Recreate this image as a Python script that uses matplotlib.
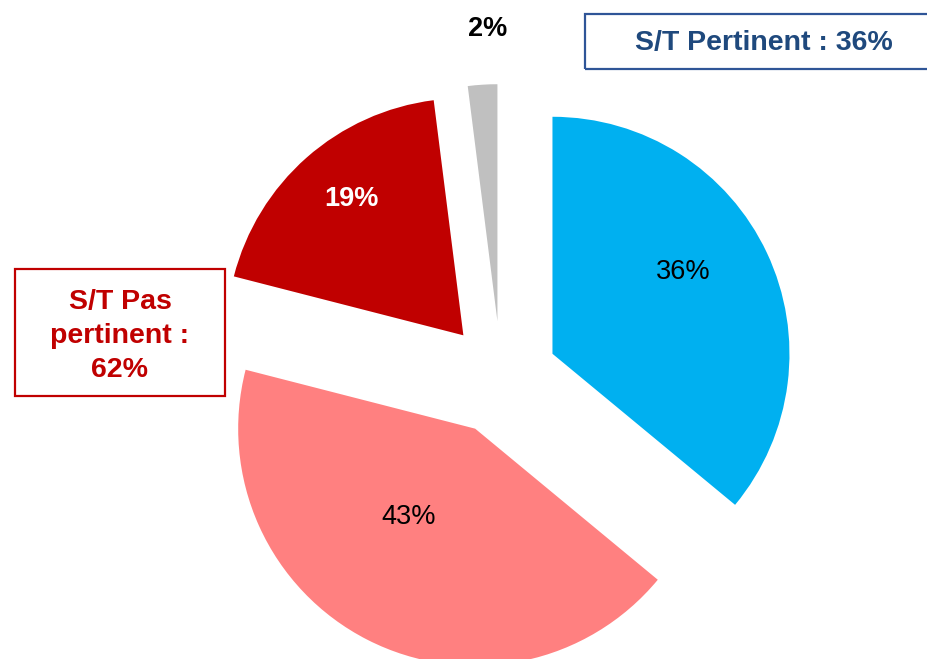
import numpy as np
import matplotlib.pyplot as plt
from matplotlib.patches import Rectangle

plt.rcParams['font.family'] = ['Liberation Sans', 'DejaVu Sans']

shares = [36, 43, 19, 2]
labels = ['36%', '43%', '19%', '2%']
colors = ['#00B0F0', '#FF8080', '#C00000', '#C0C0C0']
label_colors = ['black', 'black', 'white', 'black']
label_weights = ['normal', 'normal', 'bold', 'bold']
# label placement: distance from wedge tip and turn from the mid-angle
label_dist = [0.65, 0.465, 0.745, 1.235]
label_turn = [6.9, -9.9, -1.9, -1.6]

box_right = 'S/T Pertinent : 36%'
box_left = 'S/T Pas\npertinent :\n62%'

fig = plt.figure(figsize=(9.28, 6.59), dpi=100)
ax = fig.add_axes([0, 0, 1, 1])
wedges, _ = ax.pie(shares, colors=colors, startangle=90, counterclock=False,
                   explode=[0.24] * 4, radius=1,
                   wedgeprops=dict(linewidth=0))
for w, lab, c, fw, d, t in zip(wedges, labels, label_colors, label_weights,
                               label_dist, label_turn):
    a = np.deg2rad((w.theta1 + w.theta2) / 2 + t)
    cx, cy = w.center
    ax.text(cx + d * np.cos(a), cy + d * np.sin(a), lab, color=c,
            fontsize=19.5, fontweight=fw, ha='center', va='center')

ax.set_aspect('auto')
ax.set_xlim(-501 / 237, (928 - 501) / 237)
ax.set_ylim(-(659 - 378) / 237, 378 / 237)
ax.axis('off')

# legend boxes
fig.patches.append(Rectangle((585 / 928, 1 - 69 / 659), 360 / 928, 55 / 659,
                             transform=fig.transFigure, fill=False,
                             edgecolor='#2F5597', linewidth=1.6))
fig.text(764 / 928, 1 - 43 / 659, box_right, color='#1F497D', fontsize=20.5,
         fontweight='bold', ha='center', va='center')

fig.patches.append(Rectangle((15 / 928, 1 - 396 / 659), 210 / 928, 127 / 659,
                             transform=fig.transFigure, fill=False,
                             edgecolor='#C00000', linewidth=1.6))
fig.text(120 / 928, 1 - 336 / 659, box_left, color='#C00000', fontsize=20.5,
         fontweight='bold', ha='center', va='center', linespacing=1.4)

fig.savefig('out.png', dpi=100)
